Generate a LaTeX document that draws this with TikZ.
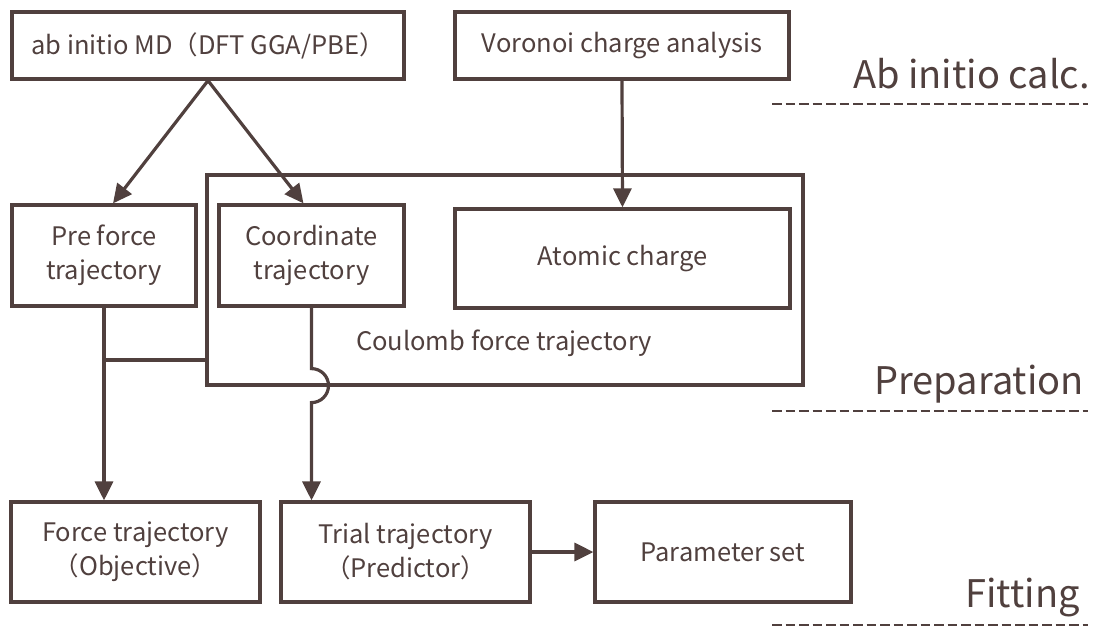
\documentclass[tikz,border=0pt]{standalone}
\usepackage{fontspec}
\setmainfont{Noto Sans CJK JP}
\usepackage{tikz}
\usetikzlibrary{arrows.meta}
\definecolor{inkbrown}{RGB}{80,64,62}

\begin{document}
\begin{tikzpicture}[x=1pt,y=-1pt,
  box/.style={draw=inkbrown, line width=3.2pt, rectangle, inner sep=0pt, align=center, text=inkbrown, font=\fontsize{25.5}{34}\selectfont},
  link/.style={draw=inkbrown, line width=3.2pt},
  arrow/.style={link, -{Triangle[length=19pt,width=18pt]}},
  stage/.style={anchor=base east, inner sep=0pt, text=inkbrown, font=\fontsize{38}{40}\selectfont},
  stagerule/.style={draw=inkbrown, line width=2pt, dash pattern=on 9.5pt off 4pt}]
\useasboundingbox (0,0) rectangle (1101,627);

% Text Node
\node [box, minimum width=392, minimum height=67] (md) at (208,45.5) {ab initio MD（DFT GGA/PBE）};
% Text Node
\node [box, minimum width=334, minimum height=67] (voronoi) at (622,45.5) {Voronoi charge analysis};
% Text Node
\node [box, minimum width=596, minimum height=210] (coulomb) at (505,280) {};
% Text Node
\node [text=inkbrown, font=\fontsize{25.5}{30}\selectfont, inner sep=0pt] (coulomblabel) at (504,343) {Coulomb force trajectory};
% Text Node
\node [box, minimum width=184, minimum height=101] (pre) at (104,255.5) {Pre force\\trajectory};
% Text Node
\node [box, minimum width=185, minimum height=101] (coord) at (311.5,255.5) {Coordinate\\trajectory};
% Text Node
\node [box, minimum width=335, minimum height=99] (atomic) at (622.5,258.5) {Atomic charge};
% Text Node
\node [box, minimum width=249, minimum height=100] (force) at (135.5,552) {Force trajectory\\（Objective）};
% Text Node
\node [box, minimum width=249, minimum height=100] (trial) at (405.5,552) {Trial trajectory\\（Predictor）};
% Text Node
\node [box, minimum width=256, minimum height=100] (param) at (723,552) {Parameter set};

% Stage labels
\node [stage] (calc) at (1090,88) {Ab initio calc.};
\node [stage] (prep) at (1084,394) {Preparation};
\node [stage] (fit) at (1080,607) {Fitting};
\draw [stagerule] (772,104) -- (1088,104);
\draw [stagerule] (772,411) -- (1088,411);
\draw [stagerule] (772,625) -- (1088,625);

% Connection
\draw [arrow] (md.south) -- ([xshift=9pt]pre.north);
% Connection
\draw [arrow] (md.south) -- ([xshift=-8pt]coord.north);
% Connection
\draw [arrow] (voronoi.south) -- (atomic.north);
% Connection
\coordinate (joint) at (104,360);
\draw [link] (coulomb.west |- joint) -- (joint);
% Connection
\draw [arrow] (pre.south) -- (pre.south |- force.north);
% Connection
\draw [arrow] (coord.south) -- ++(0,61) arc[start angle=-90, end angle=90, radius=17] -- (coord.south |- trial.north);
% Connection
\draw [arrow] (trial.east) -- (param.west);

\end{tikzpicture}
\end{document}
